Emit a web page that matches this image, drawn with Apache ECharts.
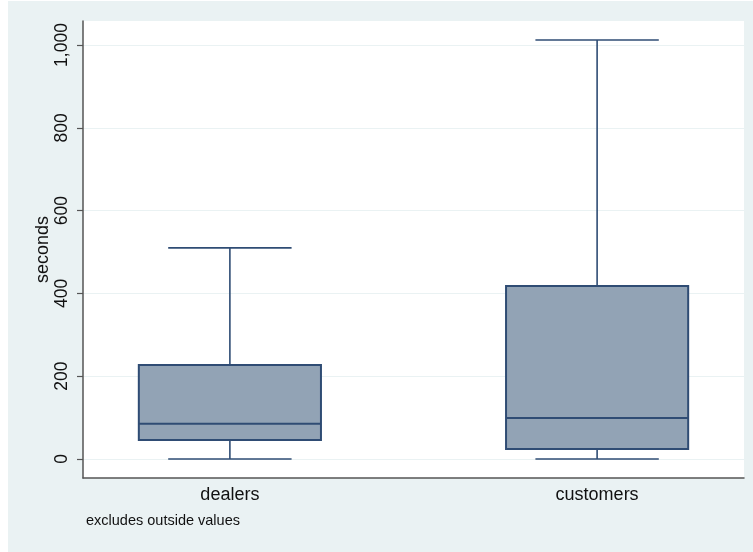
<!DOCTYPE html>
<html>
<head>
<meta charset="utf-8">
<script src="https://cdn.jsdelivr.net/npm/echarts@6/dist/echarts.min.js"></script>
<style>html,body{margin:0;padding:0;background:#fff}#c{width:753px;height:552px}</style>
</head>
<body>
<div id="c"></div>
<script>
const categories = ['dealers', 'customers'];
const lowerWhisker = [0, 0];
const q1 = [46, 24];
const median = [85, 99];
const q3 = [227, 418];
const upperWhisker = [510, 1012];
const yTicks = [0, 200, 400, 600, 800, 1000];
const yTitle = 'seconds';
const note = 'excludes outside values';

const FONT = '"Liberation Sans", Arial, Helvetica, sans-serif';
const STROKE = '#2f4c74';
const FILL = '#92a3b5';

const boxData = categories.map((c, i) => [i, lowerWhisker[i], q1[i], median[i], q3[i], upperWhisker[i]]);

const chart = echarts.init(document.getElementById('c'), null, {renderer: 'canvas'});
chart.setOption({
  backgroundColor: '#ffffff',
  animation: false,
  graphic: [{
    type: 'rect', z: -100, silent: true,
    shape: {x: 8, y: 1, width: 745, height: 551},
    style: {fill: '#eaf2f3'}
  }],
  title: {
    text: note, left: 81, top: 508,
    textStyle: {fontFamily: FONT, fontSize: 14.5, fontWeight: 'normal', color: '#111'}
  },
  grid: [
    {left: 83, right: 9, top: 21, bottom: 74, show: true, backgroundColor: '#ffffff', borderWidth: 0},
    {left: 83, right: 9, top: 45, bottom: 93}
  ],
  xAxis: [
    {
      gridIndex: 0, type: 'value', min: -0.4, max: 1.4,
      axisLine: {show: true, onZero: false, lineStyle: {color: '#555', width: 1.5}},
      axisTick: {show: false}, splitLine: {show: false},
      axisLabel: {
        customValues: categories.map((c, i) => i),
        formatter: v => categories[Math.round(v)] || '',
        fontFamily: FONT, fontSize: 18, color: '#111', margin: 8
      }
    },
    {gridIndex: 1, type: 'value', min: -0.4, max: 1.4, show: false, axisLine: {onZero: false}}
  ],
  yAxis: [
    {
      gridIndex: 0, type: 'value', min: -46, max: 1058,
      axisLine: {show: true, onZero: false, lineStyle: {color: '#555', width: 1.5}},
      axisTick: {show: false}, axisLabel: {show: false}, splitLine: {show: false},
      name: yTitle, nameLocation: 'middle', nameGap: 31, nameRotate: 90,
      nameTextStyle: {fontFamily: FONT, fontSize: 18, color: '#111'}
    },
    {
      gridIndex: 1, type: 'value', min: 0, max: 1000, interval: 200,
      axisLine: {show: false, onZero: false},
      axisTick: {show: true, length: 6, lineStyle: {color: '#555', width: 1.2}},
      axisLabel: {
        rotate: 90, margin: 12, fontFamily: FONT, fontSize: 17.5, color: '#111',
        formatter: v => v.toLocaleString('en-US')
      },
      splitLine: {show: true, lineStyle: {color: '#eaf2f3', width: 1.2}}
    }
  ],
  series: [{
    type: 'custom',
    xAxisIndex: 1, yAxisIndex: 1,
    data: boxData,
    encode: {x: 0, y: [1, 2, 3, 4, 5]},
    renderItem: function (params, api) {
      const x = api.value(0);
      const pLow = api.coord([x, api.value(1)]);
      const pQ1 = api.coord([x, api.value(2)]);
      const pMed = api.coord([x, api.value(3)]);
      const pQ3 = api.coord([x, api.value(4)]);
      const pHigh = api.coord([x, api.value(5)]);
      const unit = api.size([1, 0])[0];
      const bh = unit * 0.248;
      const ch = unit * 0.168;
      const cx = pMed[0];
      const ls = {stroke: STROKE, lineWidth: 1.6};
      return {
        type: 'group',
        children: [
          {type: 'line', shape: {x1: cx, y1: pQ3[1], x2: cx, y2: pHigh[1]}, style: ls},
          {type: 'line', shape: {x1: cx, y1: pQ1[1], x2: cx, y2: pLow[1]}, style: ls},
          {type: 'line', shape: {x1: cx - ch, y1: pHigh[1], x2: cx + ch, y2: pHigh[1]}, style: ls},
          {type: 'line', shape: {x1: cx - ch, y1: pLow[1], x2: cx + ch, y2: pLow[1]}, style: ls},
          {type: 'rect', shape: {x: cx - bh, y: pQ3[1], width: 2 * bh, height: pQ1[1] - pQ3[1]},
            style: {fill: FILL, stroke: STROKE, lineWidth: 2}},
          {type: 'line', shape: {x1: cx - bh, y1: pMed[1], x2: cx + bh, y2: pMed[1]},
            style: {stroke: STROKE, lineWidth: 2}}
        ]
      };
    }
  }]
});
</script>
</body>
</html>
